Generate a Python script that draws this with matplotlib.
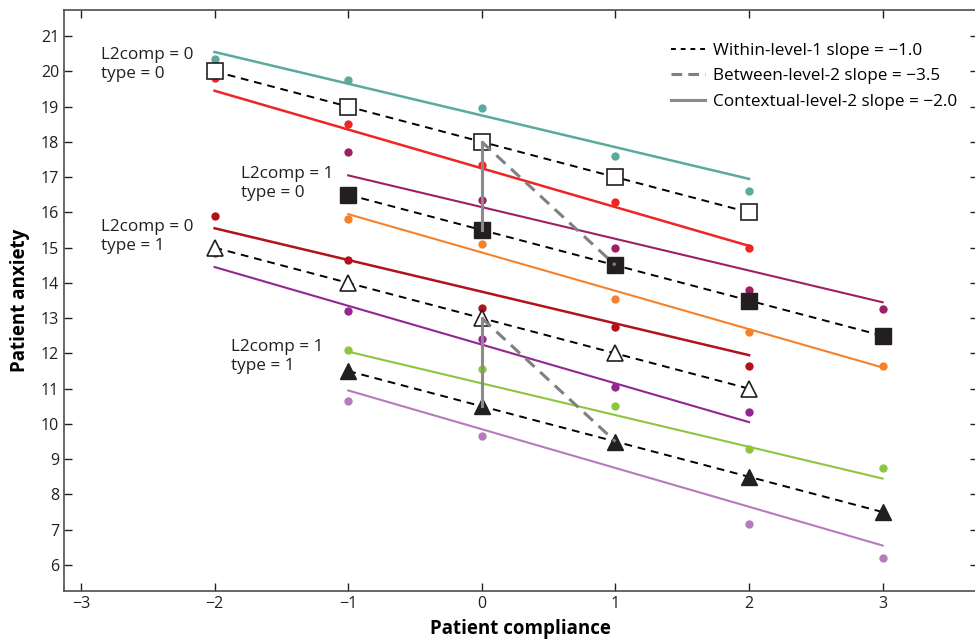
import matplotlib.pyplot as plt

plt.rcParams['font.family'] = ['Open Sans', 'DejaVu Sans']

# compliance values per group
x_g0 = [-2, -1, 0, 1, 2]   # L2comp = 0 groups
x_g1 = [-1, 0, 1, 2, 3]    # L2comp = 1 groups

# group means (markers on dashed lines)
mean_a = [20, 19, 18, 17, 16]          # L2comp=0, type=0
mean_b = [16.5, 15.5, 14.5, 13.5, 12.5]  # L2comp=1, type=0
mean_c = [15, 14, 13, 12, 11]          # L2comp=0, type=1
mean_d = [11.5, 10.5, 9.5, 8.5, 7.5]   # L2comp=1, type=1

# patient dots
teal_pts = [20.35, 19.75, 18.95, 17.6, 16.6]
red_pts = [19.8, 18.5, 17.35, 16.3, 15.0]
magenta_pts = [17.7, 16.35, 15.0, 13.8, 13.25]
orange_pts = [15.8, 15.1, 13.55, 12.6, 11.65]
darkred_pts = [15.9, 14.65, 13.3, 12.75, 11.65]
purple_pts = [14.85, 13.2, 12.4, 11.05, 10.35]
green_pts = [12.1, 11.55, 10.5, 9.3, 8.75]
lilac_pts = [10.65, 9.65, float('nan'), 7.15, 6.2]

# fitted line end values (start, end)
teal_fit = [20.55, 16.95]
red_fit = [19.45, 15.05]
magenta_fit = [17.05, 13.45]
orange_fit = [15.95, 11.6]
darkred_fit = [15.55, 11.95]
purple_fit = [14.45, 10.05]
green_fit = [12.05, 8.45]
lilac_fit = [10.95, 6.55]

# between (dashed grey) and contextual (solid grey) segments
between_x = [0, 1]
between_top = [18, 14.5]
between_bot = [13, 9.5]
context_top = [18, 15.5]
context_bot = [13, 10.5]

fig = plt.figure(figsize=(9.75, 6.42), dpi=100)
ax = fig.add_axes([0.0656, 0.0794, 0.937, 0.905])

series = [
    (x_g0, teal_pts, teal_fit, '#5aaa9d', 1.8),
    (x_g0, red_pts, red_fit, '#ee2524', 1.8),
    (x_g1, magenta_pts, magenta_fit, '#9f1f64', 1.5),
    (x_g1, orange_pts, orange_fit, '#f5822a', 1.5),
    (x_g0, darkred_pts, darkred_fit, '#b3111c', 1.8),
    (x_g0, purple_pts, purple_fit, '#92278f', 1.5),
    (x_g1, green_pts, green_fit, '#8cc63f', 1.5),
    (x_g1, lilac_pts, lilac_fit, '#b57bbb', 1.5),
]
for xs, pts, fit, col, lw in series:
    ax.plot([xs[0], xs[-1]], fit, color=col, lw=lw, zorder=2)
    ax.plot(xs, pts, 'o', color=col, ms=6, mec='none', zorder=3)

# group mean lines
dash_k = (0, (4, 3))
ax.plot(x_g0, mean_a, color='black', ls=dash_k, lw=1.4, zorder=4)
ax.plot(x_g0, mean_a, 's', ms=11, mfc='white', mec='#231f20', mew=1.2, zorder=5)
ax.plot(x_g1, mean_b, color='black', ls=dash_k, lw=1.4, zorder=4)
ax.plot(x_g1, mean_b, 's', ms=11, color='#231f20', zorder=5)
ax.plot(x_g0, mean_c, color='black', ls=dash_k, lw=1.4, zorder=4)
ax.plot(x_g0, mean_c, '^', ms=11.5, mfc='white', mec='#231f20', mew=1.2, zorder=5)
ax.plot(x_g1, mean_d, color='black', ls=dash_k, lw=1.4, zorder=4)
ax.plot(x_g1, mean_d, '^', ms=11.5, color='#231f20', zorder=5)

# between and contextual effects
ax.plot(between_x, between_top, color='#808080', ls=(0, (4, 2.5)), lw=2.2, zorder=6)
ax.plot(between_x, between_bot, color='#808080', ls=(0, (4, 2.5)), lw=2.2, zorder=6)
ax.plot([0, 0], context_top, color='#8a8a8a', lw=2.2, zorder=6)
ax.plot([0, 0], context_bot, color='#8a8a8a', lw=2.2, zorder=6)

# legend handles
h1, = ax.plot([], [], color='black', ls=(0, (2.5, 2.5)), lw=1.4)
h2, = ax.plot([], [], color='#808080', ls=(0, (3.5, 2)), lw=2.2)
h3, = ax.plot([], [], color='#8a8a8a', lw=2.2)
ax.legend([h1, h2, h3],
          ['Within-level-1 slope = \u22121.0',
           'Between-level-2 slope = \u22123.5',
           'Contextual-level-2 slope = \u22122.0'],
          loc='upper left', bbox_to_anchor=(0.664, 0.943), frameon=False,
          fontsize=12.3, handlelength=2.0, handletextpad=0.5, labelspacing=0.54,
          borderaxespad=0, borderpad=0)

# group labels
lab_kw = dict(fontsize=12.3, ha='left', va='top', linespacing=1.22, color='#231f20')
ax.text(-2.85, 20.68, 'L2comp = 0\ntype = 0', **lab_kw)
ax.text(-1.80, 17.31, 'L2comp = 1\ntype = 0', **lab_kw)
ax.text(-2.85, 15.80, 'L2comp = 0\ntype = 1', **lab_kw)
ax.text(-1.88, 12.40, 'L2comp = 1\ntype = 1', **lab_kw)

ax.set_xlim(-3.127, 3.71)
ax.set_ylim(5.26, 21.74)
ax.set_xticks(range(-3, 4))
ax.set_xticklabels(['\u22123', '\u22122', '\u22121', '0', '1', '2', '3'])
ax.set_yticks(range(6, 22))
ax.tick_params(direction='in', length=6, width=1, colors='#231f20',
               labelsize=11.5, top=True, right=True)
for sp in ax.spines.values():
    sp.set_color('#4d4d4f')
    sp.set_linewidth(1.2)

ax.set_xlabel('Patient compliance', fontsize=13.5, fontweight='bold', labelpad=5)
ax.set_ylabel('Patient anxiety', fontsize=13.5, fontweight='bold', labelpad=8)

fig.savefig('out.png', dpi=100)
